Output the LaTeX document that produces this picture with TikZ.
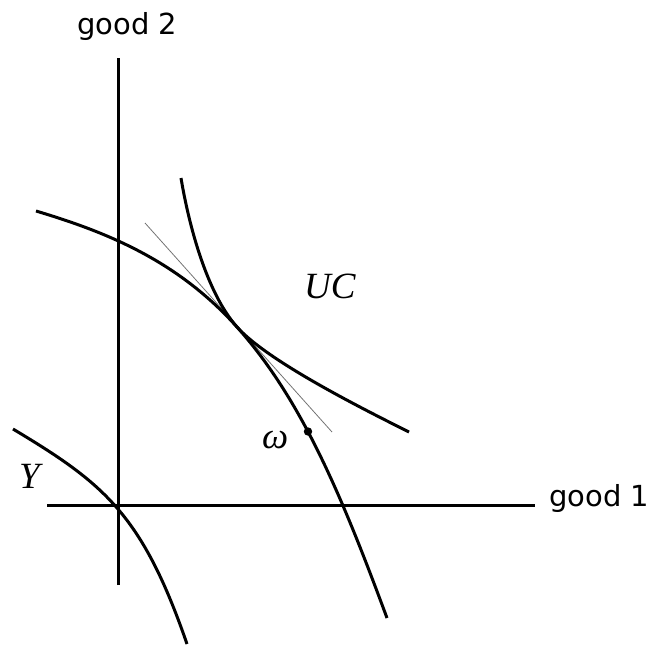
\documentclass[tikz,border=0pt]{standalone}
\usepackage{fontspec}
\setmainfont{Liberation Serif}
\newfontfamily\labsans{DejaVu Sans}
\begin{document}
\begin{tikzpicture}[x=1pt,y=-1pt,
  axisline/.style={line width=3pt},
  curveline/.style={line width=3pt},
  thinline/.style={line width=0.8pt, black!55},
  sanslab/.style={inner sep=0pt, anchor=base west, font=\labsans\fontsize{29}{32}\selectfont},
  seriflab/.style={inner sep=0pt, anchor=base west, font=\fontsize{37}{40}\selectfont\itshape}]
\useasboundingbox (0,0) rectangle (652,644);
% axes
\coordinate (ytop) at (118,58);
\coordinate (ybot) at (118,585);
\coordinate (xleft) at (47,505);
\coordinate (xright) at (535,505);
\draw[axisline] (ybot) -- (ytop);
\draw[axisline] (xleft) -- (xright);
% tangent line
\coordinate (ta) at (145,223);
\coordinate (tb) at (332,432);
\draw[thinline] (ta) -- (tb);
% tangency point
\coordinate (tp) at (237,327);
% shifted production frontier (concave)
\coordinate (fa) at (36,211);
\coordinate (fb) at (387,618);
\draw[curveline] (fa) .. controls (106,232) and (177,260) .. (tp)
                      .. controls (302,399.8) and (342,496.5) .. (fb);
% indifference curve (convex)
\coordinate (ia) at (181,178);
\coordinate (ib) at (409,432);
\draw[curveline] (ia) .. controls (189,226) and (207,293.4) .. (tp)
                      .. controls (267,360.6) and (359,407) .. (ib);
% production set boundary Y
\coordinate (ya) at (13,429);
\coordinate (yb) at (187,644);
\draw[curveline] (ya) .. controls (103,483) and (142,513.5) .. (yb);
% endowment
\coordinate (w) at (308,431.5);
\fill (w) circle (4.2);
% labels
\node[sanslab] (g2) at (77,35) {good 2};
\node[sanslab] (g1) at (549,506) {good 1};
\node[seriflab] (uc) at (304,298) {UC};
\node[seriflab] (ylab) at (19,488) {Y};
\node[seriflab] (om) at (262,448) {ω};
\end{tikzpicture}
\end{document}
